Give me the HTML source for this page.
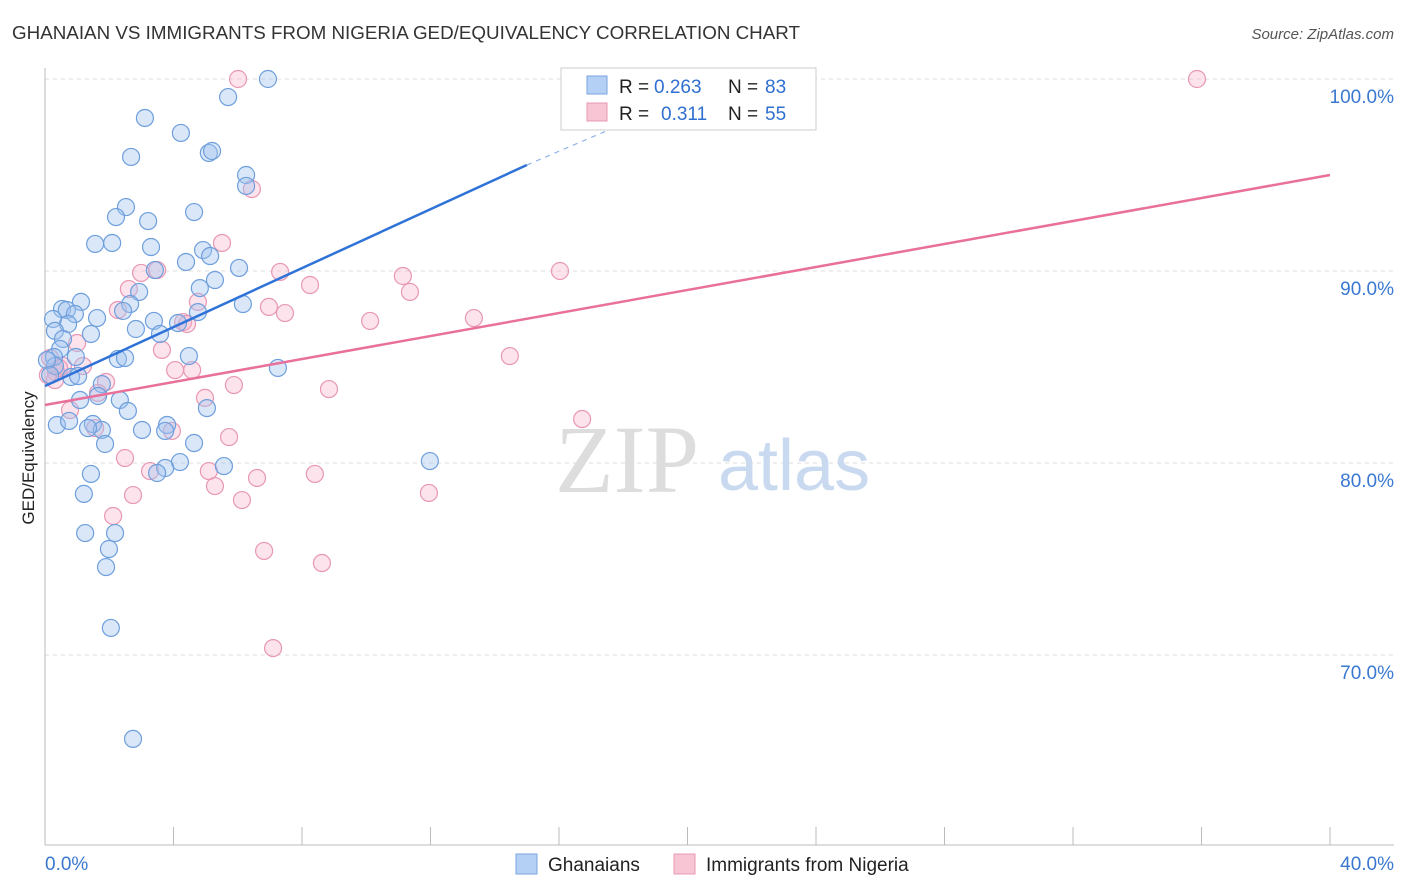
<!DOCTYPE html>
<html><head><meta charset="utf-8">
<style>
body{margin:0;background:#fff;font-family:"Liberation Sans",sans-serif;}
svg{display:block}
</style></head>
<body>
<svg id="chart" width="1406" height="892">
<text x="12" y="39" font-size="18" fill="#333" textLength="788" lengthAdjust="spacingAndGlyphs">GHANAIAN VS IMMIGRANTS FROM NIGERIA GED/EQUIVALENCY CORRELATION CHART</text>
<text x="1394" y="39" font-size="15" fill="#555" font-style="italic" text-anchor="end">Source: ZipAtlas.com</text>
<text x="34" y="458" font-size="17" fill="#222" text-anchor="middle" transform="rotate(-90 34 458)">GED/Equivalency</text>
<g id="grid"></g>
<text x="555" y="492" font-size="96" fill="#ddd" font-family="Liberation Serif,serif">ZIP</text>
<text x="718" y="490" font-size="72" fill="#c9daf0">atlas</text>
<g id="pts"></g>
<g id="lines"></g>
<g font-size="19">
<rect x="561" y="68" width="255" height="62" fill="#fff" stroke="#ccc"/>
<rect x="587" y="76" width="20" height="18" fill="#b5d0f5" stroke="#7aa5e0"/>
<text x="619" y="93" fill="#222">R =</text>
<text x="654" y="93" fill="#2f6fd0">0.263</text>
<text x="728" y="93" fill="#222">N =</text>
<text x="765" y="93" fill="#2f6fd0">83</text>
<rect x="587" y="103" width="20" height="18" fill="#f8c5d5" stroke="#e898b5"/>
<text x="619" y="120" fill="#222">R =</text>
<text x="661" y="120" fill="#2f6fd0">0.311</text>
<text x="728" y="120" fill="#222">N =</text>
<text x="765" y="120" fill="#2f6fd0">55</text>
</g>
<g>
<rect x="516" y="854" width="21" height="20" fill="#b5d0f5" stroke="#7aa5e0"/>
<text x="548" y="871" font-size="19" fill="#222">Ghanaians</text>
<rect x="674" y="854" width="21" height="20" fill="#f8c5d5" stroke="#e898b5"/>
<text x="706" y="871" font-size="19" fill="#222">Immigrants from Nigeria</text>
</g>
<text x="45" y="870" font-size="19" fill="#3a78d0">0.0%</text>
<text x="1394" y="870" font-size="19" fill="#3a78d0" text-anchor="end">40.0%</text>
</svg>
<script>
const yTicks=[100,90,80,70];
const yTickLabels=["100.0%","90.0%","80.0%","70.0%"];
const blueX=[6.94,5.70,3.11,4.23,2.68,5.10,5.20,6.26,6.26,2.52,2.21,3.21,4.64,1.56,2.09,3.30,4.92,5.14,4.39,6.04,3.42,5.29,4.82,2.93,1.12,2.65,0.53,0.68,0.93,6.16,4.76,0.25,2.43,1.62,0.72,3.39,4.14,2.83,0.31,1.43,3.58,0.56,0.47,0.28,0.96,2.27,2.49,4.48,0.31,7.25,0.81,1.03,1.77,1.65,1.09,2.33,2.58,5.04,0.37,0.75,1.49,1.77,3.02,3.80,3.74,4.64,1.87,4.20,5.57,3.74,3.49,1.43,11.98,1.21,1.25,2.18,1.99,1.90,2.05,2.74,0.06,0.16,1.34];
const blueY=[100,99.06,97.97,97.19,95.94,96.15,96.25,95.0,94.43,93.33,92.81,92.60,93.07,91.41,91.46,91.25,91.09,90.78,90.47,90.16,90.05,89.53,89.11,88.91,88.39,88.28,88.02,87.97,87.76,88.28,87.86,87.50,87.92,87.55,87.24,87.40,87.29,86.98,86.88,86.72,86.72,86.46,85.94,85.52,85.52,85.42,85.47,85.57,85.05,84.95,84.48,84.53,84.11,83.49,83.28,83.28,82.71,82.86,81.98,82.19,82.03,81.72,81.72,81.98,81.67,81.04,80.99,80.05,79.84,79.74,79.48,79.43,80.10,78.39,76.35,76.35,75.52,74.58,71.41,65.63,85.36,84.58,81.82];
const pinkX=[6.01,35.86,6.44,5.51,2.99,3.49,7.32,11.14,16.03,8.25,11.36,2.61,4.76,6.97,7.47,2.27,10.12,13.35,4.30,4.42,1.00,3.64,14.47,0.16,0.56,0.34,1.18,4.05,4.58,5.88,1.90,8.84,1.65,4.98,0.78,16.72,1.56,3.95,5.73,2.49,3.27,5.10,8.40,6.60,5.29,11.95,2.74,6.13,2.12,6.82,8.62,7.10,0.31,0.09,0.44];
const pinkY=[100,100,94.27,91.46,89.90,90.05,89.95,89.74,90.0,89.27,88.91,89.06,88.39,88.13,87.81,87.97,87.40,87.55,87.34,87.24,86.25,85.89,85.57,85.47,85.05,84.74,85.05,84.84,84.84,84.06,84.22,83.85,83.65,83.39,82.76,82.29,81.82,81.67,81.35,80.26,79.58,79.58,79.43,79.22,78.80,78.44,78.33,78.07,77.24,75.42,74.79,70.36,84.32,84.58,84.95];
const blueTrend=[[0,84.01],[15.0,95.52]];
const blueDash=[[15.0,95.52],[17.9,97.6]];
const pinkTrend=[[0,83.02],[40,95.0]];
const xs=v=>45+v/40*1285;
const ys=v=>79+(100-v)*19.2;
const NS="http://www.w3.org/2000/svg";
function mk(t,a,p){const e=document.createElementNS(NS,t);for(const k in a)e.setAttribute(k,a[k]);p.appendChild(e);return e;}
const grid=document.getElementById('grid');
yTicks.forEach((t,i)=>{
 const l=mk('line',{x1:45,x2:1394,y1:ys(t),y2:ys(t),stroke:'#ddd','stroke-dasharray':'4,4'},grid);
 
 
 const tx=mk('text',{x:1394,y:ys(t)+24,'font-size':19,fill:'#3a78d0','text-anchor':'end'},grid);
 tx.textContent=yTickLabels[i];
 
 
});
const ax=mk('line',{x1:45,x2:45,y1:68,y2:845,stroke:'#bbb'},grid);


const bx=mk('line',{x1:45,x2:1394,y1:845,y2:845,stroke:'#bbb'},grid);


for(let i=0;i<=10;i++){const t=mk('line',{x1:xs(i*4),x2:xs(i*4),y1:827,y2:845,stroke:'#bbb'},grid);
 
 }
const pts=document.getElementById('pts');
pinkX.forEach((x,i)=>{const c=mk('circle',{cx:xs(x),cy:ys(pinkY[i]),r:8.5,fill:'rgba(245,175,200,0.35)',stroke:'#e897b4','stroke-width':1.2},pts);
 
 });
blueX.forEach((x,i)=>{const c=mk('circle',{cx:xs(x),cy:ys(blueY[i]),r:8.5,fill:'rgba(160,195,240,0.4)',stroke:'#6e9fdc','stroke-width':1.2},pts);
 
 });
const lines=document.getElementById('lines');
const bl=mk('line',{x1:xs(blueTrend[0][0]),y1:ys(blueTrend[0][1]),x2:xs(blueTrend[1][0]),y2:ys(blueTrend[1][1]),stroke:'#2f73d8','stroke-width':2.5},lines);


const bd=mk('line',{x1:xs(blueDash[0][0]),y1:ys(blueDash[0][1]),x2:xs(blueDash[1][0]),y2:ys(blueDash[1][1]),stroke:'#8fb3e6','stroke-width':1.2,'stroke-dasharray':'5,5'},lines);


const pl=mk('line',{x1:xs(pinkTrend[0][0]),y1:ys(pinkTrend[0][1]),x2:xs(pinkTrend[1][0]),y2:ys(pinkTrend[1][1]),stroke:'#e8709a','stroke-width':2.5},lines);


</script>
</body></html>
